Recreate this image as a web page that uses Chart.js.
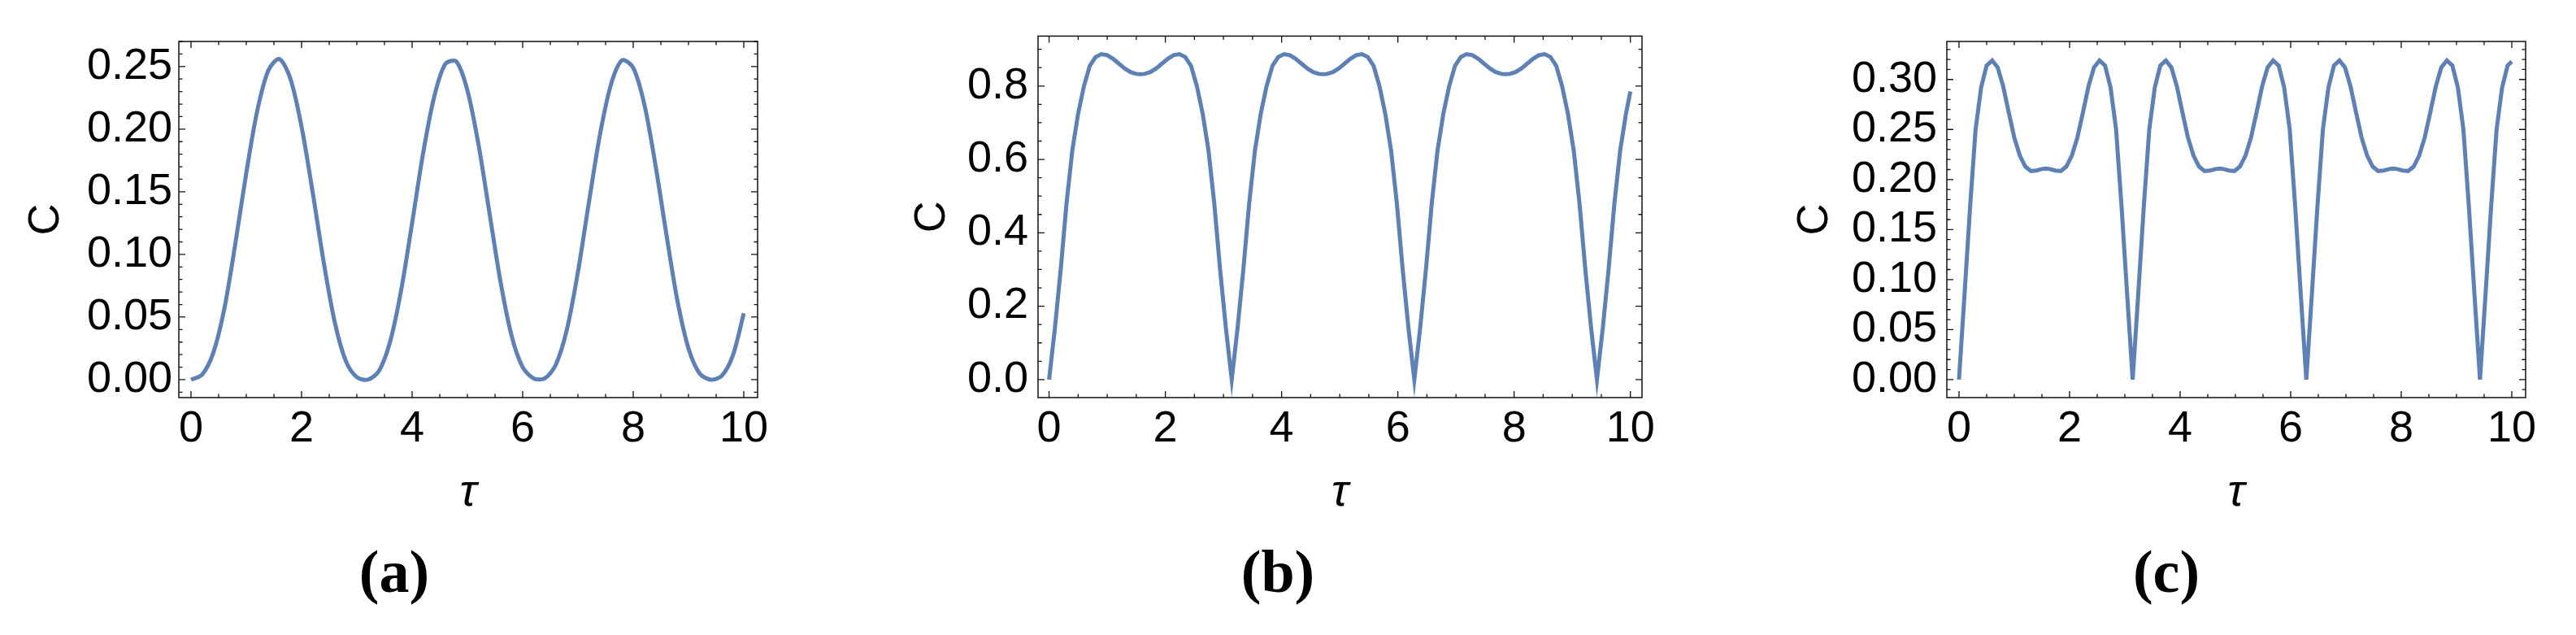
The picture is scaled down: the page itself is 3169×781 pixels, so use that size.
<!DOCTYPE html>
<html>
<head>
<meta charset="utf-8">
<script src="https://cdn.jsdelivr.net/npm/chart.js@4.4.0/dist/chart.umd.min.js"></script>
<style>
  body { margin: 0; background: #fff; width: 3169px; height: 781px; position: relative; overflow: hidden; }
  canvas { position: absolute; top: 0; }
  .cap { position: absolute; font-family: "Liberation Serif", serif; font-weight: bold; font-size: 74px;
         line-height: 1; transform: translate(-50%, -50%); color: #000; }
</style>
</head>
<body>
<canvas id="chart-a" width="1056" height="781" style="left:0px"></canvas>
<canvas id="chart-b" width="1056" height="781" style="left:1056px"></canvas>
<canvas id="chart-c" width="1057" height="781" style="left:2112px"></canvas>
<div class="cap" style="left:485px;top:703px">(a)</div>
<div class="cap" style="left:1572px;top:703px">(b)</div>
<div class="cap" style="left:2665px;top:703px">(c)</div>

<script>
// panel (a): tau grid and C values
var tauA = [0, 0.2, 0.4, 0.6, 0.8, 1.0, 1.2, 1.4, 1.6, 1.8, 2.0, 2.2, 2.4, 2.6, 2.8, 3.0, 3.2, 3.4, 3.6, 3.8,
            4.0, 4.2, 4.4, 4.6, 4.8, 5.0, 5.2, 5.4, 5.6, 5.8, 6.0, 6.2, 6.4, 6.6, 6.8, 7.0, 7.2, 7.4, 7.6, 7.8,
            8.0, 8.2, 8.4, 8.6, 8.8, 9.0, 9.2, 9.4, 9.6, 9.8, 10.0];
var cA = [0, 0.004, 0.021, 0.056, 0.108, 0.165, 0.215, 0.247, 0.256, 0.240, 0.202, 0.150, 0.094, 0.046, 0.015, 0.002, 0.000, 0.007, 0.030, 0.071,
          0.125, 0.181, 0.226, 0.252, 0.254, 0.231, 0.188, 0.133, 0.078, 0.035, 0.010, 0.001, 0.001, 0.012, 0.040, 0.086, 0.142, 0.196, 0.236, 0.255,
          0.249, 0.220, 0.172, 0.116, 0.063, 0.025, 0.005, 0.000, 0.003, 0.019, 0.053];

// panels (b) and (c) share one tau grid (cusps at multiples of pi)
var tauBC = [0, 0.1, 0.2, 0.3, 0.4, 0.5, 0.6, 0.7, 0.8, 0.9, 1.0, 1.1, 1.2, 1.3, 1.4, 1.5, 1.571,
             1.642, 1.742, 1.842, 1.942, 2.042, 2.142, 2.242, 2.342, 2.442, 2.542, 2.642, 2.742, 2.842, 2.942, 3.042, 3.142,
             3.242, 3.342, 3.442, 3.542, 3.642, 3.742, 3.842, 3.942, 4.042, 4.142, 4.242, 4.342, 4.442, 4.542, 4.642, 4.712,
             4.783, 4.883, 4.983, 5.083, 5.183, 5.283, 5.383, 5.483, 5.583, 5.683, 5.783, 5.883, 5.983, 6.083, 6.183, 6.283,
             6.383, 6.483, 6.583, 6.683, 6.783, 6.883, 6.983, 7.083, 7.183, 7.283, 7.383, 7.483, 7.583, 7.683, 7.783, 7.854,
             7.925, 8.025, 8.125, 8.225, 8.325, 8.425, 8.525, 8.625, 8.725, 8.825, 8.925, 9.025, 9.125, 9.225, 9.325, 9.425,
             9.525, 9.625, 9.725, 9.825, 9.925, 10.0];
var cB = [0, 0.14, 0.30, 0.48, 0.625, 0.725, 0.80, 0.855, 0.879, 0.887, 0.884, 0.874, 0.861, 0.848, 0.838, 0.833, 0.832,
          0.833, 0.838, 0.848, 0.861, 0.874, 0.884, 0.887, 0.879, 0.855, 0.80, 0.725, 0.625, 0.48, 0.30, 0.14, 0,
          0.14, 0.30, 0.48, 0.625, 0.725, 0.80, 0.855, 0.879, 0.887, 0.884, 0.874, 0.861, 0.848, 0.838, 0.833, 0.832,
          0.833, 0.838, 0.848, 0.861, 0.874, 0.884, 0.887, 0.879, 0.855, 0.80, 0.725, 0.625, 0.48, 0.30, 0.14, 0,
          0.14, 0.30, 0.48, 0.625, 0.725, 0.80, 0.855, 0.879, 0.887, 0.884, 0.874, 0.861, 0.848, 0.838, 0.833, 0.832,
          0.833, 0.838, 0.848, 0.861, 0.874, 0.884, 0.887, 0.879, 0.855, 0.80, 0.725, 0.625, 0.48, 0.30, 0.14, 0,
          0.14, 0.30, 0.48, 0.625, 0.725, 0.785];
var cC = [0, 0.085, 0.172, 0.25, 0.292, 0.314, 0.319, 0.312, 0.293, 0.267, 0.242, 0.224, 0.213, 0.2085, 0.209, 0.2105, 0.211,
          0.2105, 0.209, 0.2085, 0.213, 0.224, 0.242, 0.267, 0.293, 0.312, 0.319, 0.314, 0.292, 0.25, 0.172, 0.085, 0,
          0.085, 0.172, 0.25, 0.292, 0.314, 0.319, 0.312, 0.293, 0.267, 0.242, 0.224, 0.213, 0.2085, 0.209, 0.2105, 0.211,
          0.2105, 0.209, 0.2085, 0.213, 0.224, 0.242, 0.267, 0.293, 0.312, 0.319, 0.314, 0.292, 0.25, 0.172, 0.085, 0,
          0.085, 0.172, 0.25, 0.292, 0.314, 0.319, 0.312, 0.293, 0.267, 0.242, 0.224, 0.213, 0.2085, 0.209, 0.2105, 0.211,
          0.2105, 0.209, 0.2085, 0.213, 0.224, 0.242, 0.267, 0.293, 0.312, 0.319, 0.314, 0.292, 0.25, 0.172, 0.085, 0,
          0.085, 0.172, 0.25, 0.292, 0.314, 0.318];

// tick labels
var xTicks = [0, 2, 4, 6, 8, 10];
var yTicksA = [0, 0.05, 0.10, 0.15, 0.20, 0.25];
var yTicksB = [0, 0.2, 0.4, 0.6, 0.8];
var yTicksC = [0, 0.05, 0.10, 0.15, 0.20, 0.25, 0.30];

Chart.defaults.color = '#000';

// Mathematica style frame: box plus inward major/minor ticks on all four sides
var frameTicks = {
  id: 'frameTicks',
  afterDraw: function(chart, args, o) {
    var ctx = chart.ctx, a = chart.chartArea, x = chart.scales.x, y = chart.scales.y;
    var i, v, p, len;
    ctx.save();
    ctx.strokeStyle = '#111';
    ctx.lineWidth = 1.5;
    ctx.strokeRect(a.left, a.top, a.right - a.left, a.bottom - a.top);
    ctx.lineWidth = 1.3;
    ctx.beginPath();
    for (i = Math.ceil(x.min / o.xMinor); i * o.xMinor <= x.max + 1e-9; i++) {
      v = i * o.xMinor;
      p = x.getPixelForValue(v);
      len = Math.abs(v / o.xMajor - Math.round(v / o.xMajor)) < 1e-6 ? 8 : 4.5;
      ctx.moveTo(p, a.bottom); ctx.lineTo(p, a.bottom - len);
      ctx.moveTo(p, a.top); ctx.lineTo(p, a.top + len);
    }
    for (i = Math.ceil(y.min / o.yMinor - 1e-9); i * o.yMinor <= y.max + 1e-9; i++) {
      v = i * o.yMinor;
      p = y.getPixelForValue(v);
      len = Math.abs(v / o.yMajor - Math.round(v / o.yMajor)) < 1e-6 ? 8 : 4.5;
      ctx.moveTo(a.left, p); ctx.lineTo(a.left + len, p);
      ctx.moveTo(a.right, p); ctx.lineTo(a.right - len, p);
    }
    ctx.stroke();
    ctx.restore();
  }
};

function panel(id, tau, vals, yTicks, o) {
  var ctx = document.getElementById(id).getContext('2d');
  return new Chart(ctx, {
    type: 'line',
    data: {
      datasets: [{
        data: tau.map(function(t, i) { return {x: t, y: vals[i]}; }),
        borderColor: '#5e81b5',
        borderWidth: 5,
        pointRadius: 0,
        tension: o.tension,
        fill: false
      }]
    },
    options: {
      responsive: false,
      animation: false,
      events: [],
      layout: { padding: { left: 0, top: o.top, right: o.w - o.right, bottom: 0 } },
      plugins: {
        legend: { display: false },
        tooltip: { enabled: false },
        frameTicks: { xMajor: 2, xMinor: 0.5, yMajor: o.yMajor, yMinor: o.yMinor }
      },
      scales: {
        x: {
          type: 'linear', min: o.xMin, max: o.xMax,
          grid: { display: false, drawTicks: false },
          border: { display: false },
          afterFit: function(s) { s.height = 781 - o.bottom; },
          afterBuildTicks: function(s) { s.ticks = xTicks.map(function(v) { return {value: v}; }); },
          ticks: { font: { family: 'Liberation Sans', size: 54 }, padding: 7, maxRotation: 0, autoSkip: false,
                   callback: function(v) { return String(v); } },
          title: { display: true, text: 'τ', font: { family: 'Liberation Sans', style: 'italic', size: 56 },
                   padding: { top: 0, bottom: 141 } }
        },
        y: {
          type: 'linear', min: o.yMin, max: o.yMax,
          grid: { display: false, drawTicks: false },
          border: { display: false },
          afterFit: function(s) { s.width = o.left; },
          afterBuildTicks: function(s) { s.ticks = yTicks.map(function(v) { return {value: v}; }); },
          ticks: { font: { family: 'Liberation Sans', size: 54 }, padding: o.tickPad, autoSkip: false,
                   callback: function(v) { return v.toFixed(o.digits); } },
          title: { display: true, text: 'C', font: { family: 'Liberation Sans', size: 54 },
                   padding: { top: o.titlePad, bottom: 0 } }
        }
      }
    },
    plugins: [frameTicks]
  });
}

panel('chart-a', tauA, cA, yTicksA, {
  w: 1056, left: 220, right: 932, top: 51, bottom: 489,
  xMin: -0.22, xMax: 10.25, yMin: -0.0143, yMax: 0.270,
  yMajor: 0.05, yMinor: 0.01, digits: 2, tickPad: 8, titlePad: 25, tension: 0.3
});
panel('chart-b', tauBC, cB, yTicksB, {
  w: 1056, left: 221, right: 964, top: 30, bottom: 489,
  xMin: -0.19, xMax: 10.2, yMin: -0.049, yMax: 0.936,
  yMajor: 0.2, yMinor: 0.05, digits: 1, tickPad: 12, titlePad: 59, tension: 0
});
panel('chart-c', tauBC, cC, yTicksC, {
  w: 1057, left: 283, right: 995, top: 51, bottom: 489,
  xMin: -0.22, xMax: 10.25, yMin: -0.018, yMax: 0.338,
  yMajor: 0.05, yMinor: 0.01, digits: 2, tickPad: 12, titlePad: 89, tension: 0
});
</script>
</body>
</html>
